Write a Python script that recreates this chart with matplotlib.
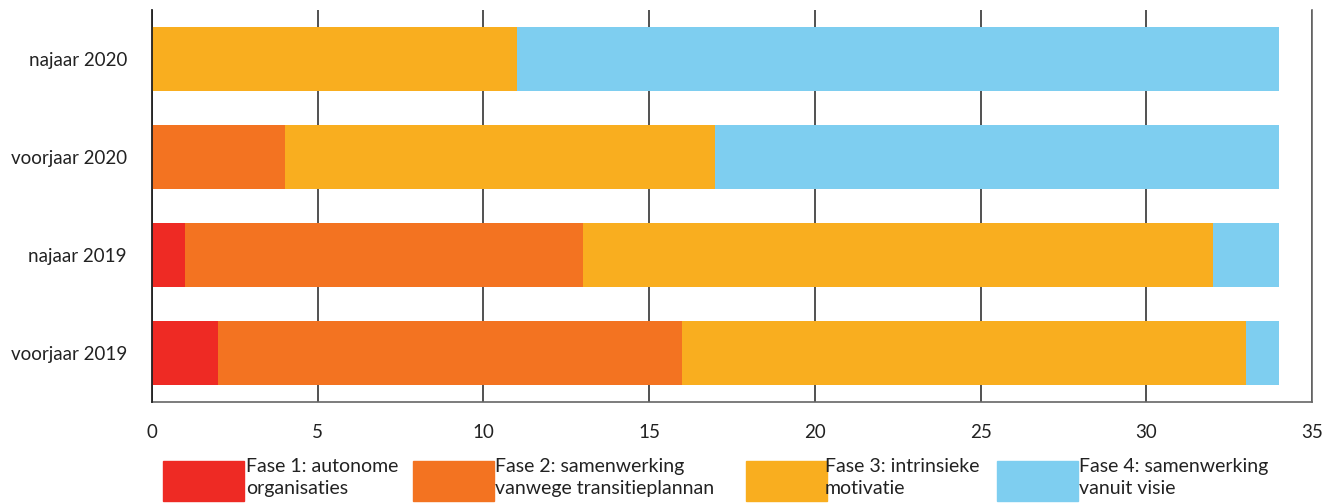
import matplotlib
matplotlib.use("Agg")
import matplotlib.pyplot as plt
from matplotlib.patches import Rectangle
import numpy as np

# data (bottom to top)
periods = ["voorjaar 2019", "najaar 2019", "voorjaar 2020", "najaar 2020"]
fase1 = [2, 1, 0, 0]
fase2 = [14, 12, 4, 0]
fase3 = [17, 19, 13, 11]
fase4 = [1, 2, 17, 23]
series_labels = ["Fase 1: autonome\norganisaties",
                 "Fase 2: samenwerking\nvanwege transitieplannan",
                 "Fase 3: intrinsieke\nmotivatie",
                 "Fase 4: samenwerking\nvanuit visie"]
colors = ["#ee2a24", "#f37321", "#f9ae1f", "#7ecef0"]
xticks = [0, 5, 10, 15, 20, 25, 30, 35]

plt.rcParams["font.family"] = ["Lato", "DejaVu Sans"]

fig = plt.figure(figsize=(13.23, 5.03), dpi=100)
ax = fig.add_axes([152 / 1323, 1 - 402 / 503, 1160 / 1323, 392 / 503])

y = np.arange(len(periods))
left = np.zeros(len(periods))
for vals, col in zip([fase1, fase2, fase3, fase4], colors):
    ax.barh(y, vals, left=left, height=0.655, color=col, zorder=3)
    left += np.array(vals)

ax.set_xlim(0, 35)
ax.set_ylim(-0.5, 3.5)
ax.set_xticks(xticks)
ax.set_xticklabels([str(t) for t in xticks], fontsize=13.5, color="#222222")
ax.set_yticks(y)
ax.set_yticklabels(periods, fontsize=13.5, color="#222222")
ax.tick_params(axis="x", length=0, pad=16)
ax.tick_params(axis="y", length=0, pad=18)
ax.grid(True, axis="x", color="#333333", linewidth=1.2, zorder=1)
ax.spines["top"].set_visible(False)
ax.spines["left"].set_color("#222222")
ax.spines["left"].set_linewidth(1.3)
ax.spines["left"].set_zorder(4)
ax.spines["bottom"].set_color("#666666")
ax.spines["bottom"].set_linewidth(1.2)
ax.spines["right"].set_color("#666666")
ax.spines["right"].set_linewidth(1.2)

# legend drawn by hand in figure pixels
W, H = 1323, 503
patch_x = [163, 413, 746, 997]
text_x = [246, 495, 825, 1079]
for px, tx, col, lab in zip(patch_x, text_x, colors, series_labels):
    fig.patches.append(Rectangle((px / W, 1 - 501 / H), 81 / W, 40 / H,
                                 transform=fig.transFigure, color=col))
    fig.text(tx / W, 1 - 458 / H, lab, fontsize=14,
             color="#222222", ha="left", va="top", linespacing=1.35)

fig.savefig("out.png", dpi=100)
